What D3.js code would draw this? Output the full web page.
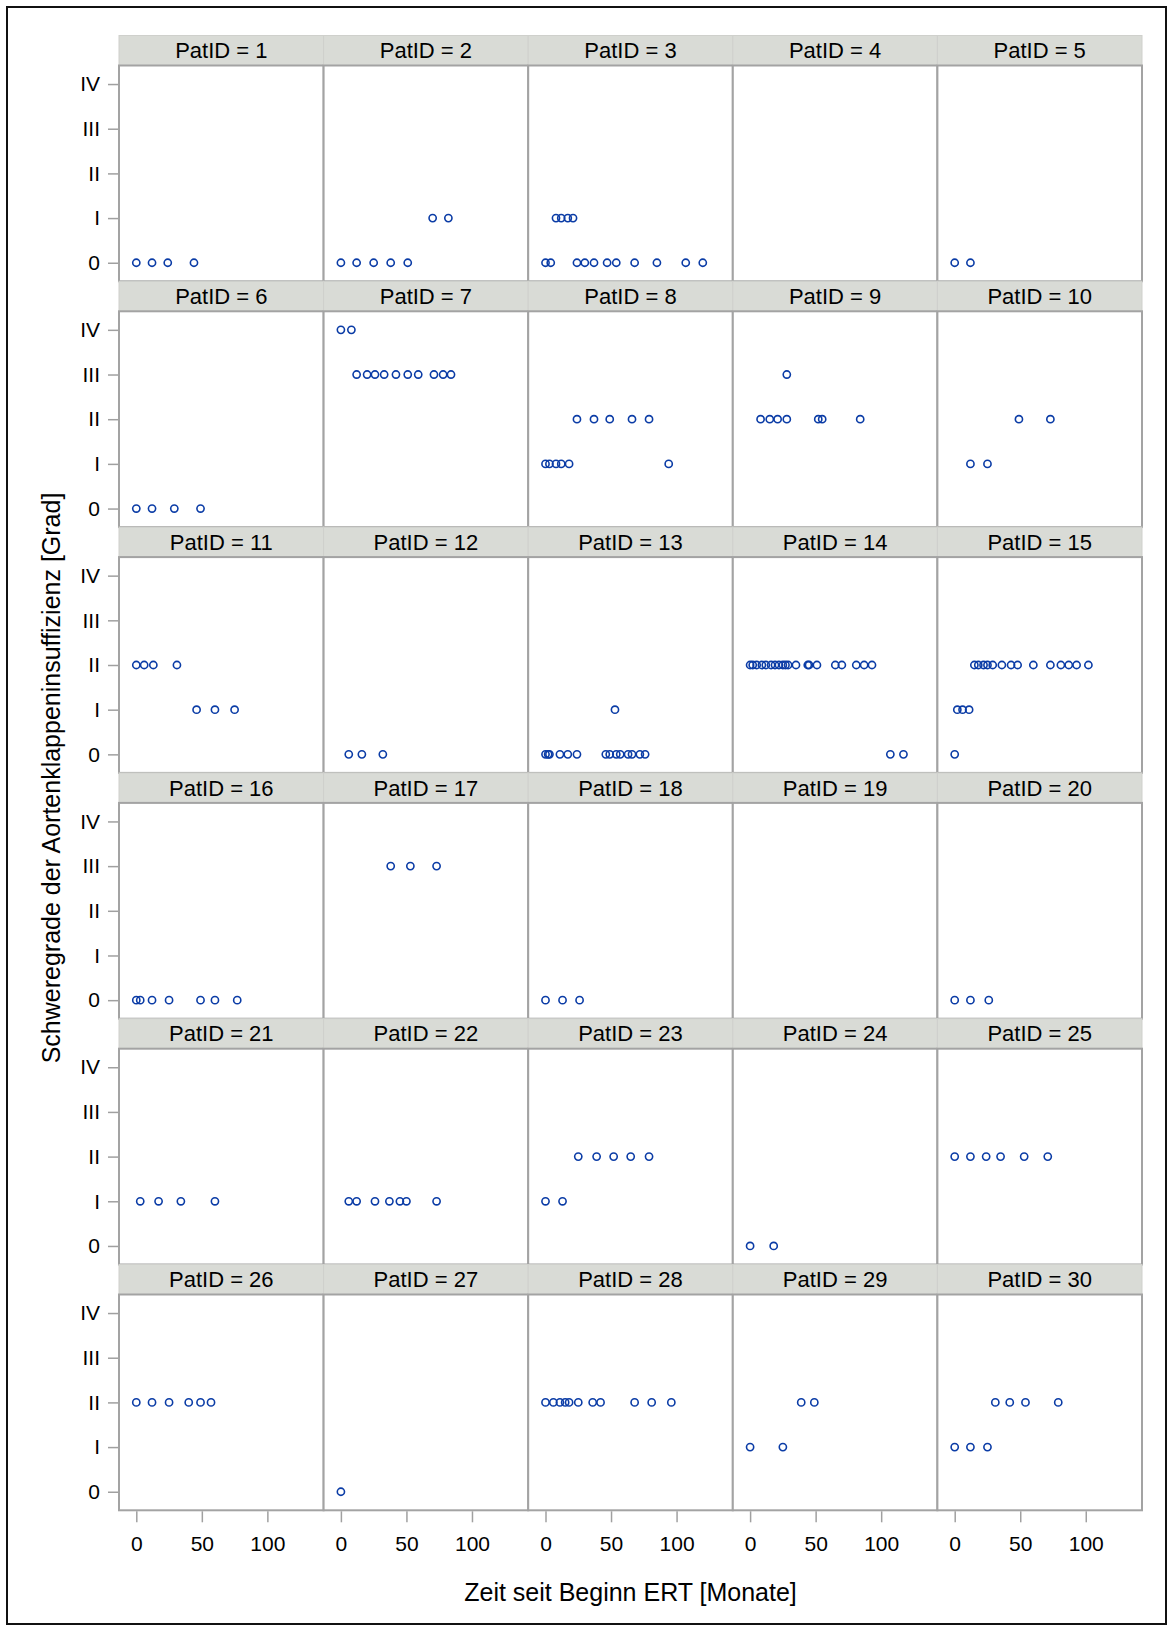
<!DOCTYPE html>
<html>
<head>
<meta charset="utf-8">
<script src="https://cdn.jsdelivr.net/npm/d3@7"></script>
<style>
  body { margin: 0; background: #fff; }
  svg text { font-family: "Liberation Sans", Arial, sans-serif; fill: #000; }
</style>
</head>
<body>
<svg id="chart" width="1173" height="1632"></svg>
<script>
// --- DATA ---
const patIds = [1, 2, 3, 4, 5, 6, 7, 8, 9, 10, 11, 12, 13, 14, 15,
                16, 17, 18, 19, 20, 21, 22, 23, 24, 25, 26, 27, 28, 29, 30];
const gradeValues = [0, 1, 2, 3, 4];
const gradeLabels = ["0", "I", "II", "III", "IV"];
const monthTicks = [0, 50, 100];

// [PatID, grade, months since start of ERT]
const visits = [
  [1, 0, [0, 12, 24, 44]],
  [2, 0, [0, 12, 25, 38, 51]], [2, 1, [70, 82]],
  [3, 0, [0, 4, 24, 30, 37, 47, 54, 68, 85, 107, 120]], [3, 1, [8, 12, 17, 21]],
  [5, 0, [0, 12]],
  [6, 0, [0, 12, 29, 49]],
  [7, 4, [0, 8]], [7, 3, [12, 20, 26, 33, 42, 51, 59, 71, 78, 84]],
  [8, 2, [24, 37, 49, 66, 79]], [8, 1, [0, 3, 8, 12, 18, 94]],
  [9, 3, [28]], [9, 2, [8, 15, 21, 28, 52, 55, 84]],
  [10, 2, [49, 73]], [10, 1, [12, 25]],
  [11, 2, [0, 6, 13, 31]], [11, 1, [46, 60, 75]],
  [12, 0, [6, 16, 32]],
  [13, 1, [53]], [13, 0, [0, 2, 3, 11, 17, 24, 46, 49, 54, 57, 63, 66, 72, 76]],
  [14, 2, [0, 2, 5, 9, 12, 16, 19, 22, 25, 27, 29, 35, 44, 45, 51, 65, 70, 81, 87, 93]], [14, 0, [107, 117]],
  [15, 2, [15, 18, 22, 25, 29, 36, 43, 48, 60, 73, 81, 87, 93, 102]], [15, 1, [2, 6, 11]], [15, 0, [0]],
  [16, 0, [0, 3, 12, 25, 49, 60, 77]],
  [17, 3, [38, 53, 73]],
  [18, 0, [0, 13, 26]],
  [20, 0, [0, 12, 26]],
  [21, 1, [3, 17, 34, 60]],
  [22, 1, [6, 12, 26, 37, 45, 50, 73]],
  [23, 2, [25, 39, 52, 65, 79]], [23, 1, [0, 13]],
  [24, 0, [0, 18]],
  [25, 2, [0, 12, 24, 35, 53, 71]],
  [26, 2, [0, 12, 25, 40, 49, 57]],
  [27, 0, [0]],
  [28, 2, [0, 6, 11, 15, 18, 25, 36, 42, 68, 81, 96]],
  [29, 2, [39, 49]], [29, 1, [0, 25]],
  [30, 2, [31, 42, 54, 79]], [30, 1, [0, 12, 25]]
];

// --- LAYOUT ---
const nCols = 5;
const gridLeft = 119, colW = 204.6;
const gridTop = 35.5, rowH = 245.8, headH = 30;
const plotH = rowH - headH;
const nRows = Math.ceil(patIds.length / nCols);

const markerColor = "#0b3ca6";
const frameColor = "#a3a3a3";

const svg = d3.select("#chart");

// outer frame
svg.append("rect")
  .attr("x", 7).attr("y", 7).attr("width", 1159).attr("height", 1617)
  .attr("fill", "none").attr("stroke", "#111").attr("stroke-width", 2);

const x = d3.scaleLinear().domain([-13.2, 142.9]).range([0, colW]);
const y = d3.scaleLinear().domain([-0.415, 4.415]).range([plotH, 0]);

// flatten visit rows into points
const points = visits.flatMap(([pid, grade, months]) =>
  months.map(m => ({ pid, grade, month: m })));

patIds.forEach((pid, i) => {
  const col = i % nCols, row = Math.floor(i / nCols);
  const g = svg.append("g")
    .attr("transform", `translate(${gridLeft + col * colW},${gridTop + row * rowH})`);

  // header cell
  g.append("rect")
    .attr("width", colW).attr("height", headH)
    .attr("fill", "#d9dbd6").attr("stroke", "#cfd0cc").attr("stroke-width", 1);
  g.append("text")
    .attr("x", colW / 2).attr("y", headH / 2 + 7.8)
    .attr("text-anchor", "middle")
    .style("font-size", "22px")
    .text(`PatID = ${pid}`);

  const plot = g.append("g").attr("transform", `translate(0,${headH})`);
  plot.append("rect")
    .attr("width", colW).attr("height", plotH)
    .attr("fill", "#fff").attr("stroke", frameColor).attr("stroke-width", 2);

  plot.selectAll("circle")
    .data(points.filter(p => p.pid === pid))
    .join("circle")
    .attr("cx", d => x(d.month))
    .attr("cy", d => y(d.grade))
    .attr("r", 3.6)
    .attr("fill", "none")
    .attr("stroke", markerColor)
    .attr("stroke-width", 1.6);

  if (col === 0) {
    const ax = plot.append("g")
      .attr("transform", "translate(-1,0)")
      .call(d3.axisLeft(y).tickValues(gradeValues)
        .tickFormat(v => gradeLabels[v]).tickSize(10).tickPadding(8));
    ax.select(".domain").remove();
    ax.selectAll("line").attr("stroke", "#a0a0a0").attr("stroke-width", 1.5);
    ax.selectAll("text").style("font-size", "21px").attr("fill", "#000");
  }

  if (row === nRows - 1) {
    const ax = plot.append("g")
      .attr("transform", `translate(0,${plotH + 1})`)
      .call(d3.axisBottom(x).tickValues(monthTicks).tickSize(11).tickPadding(14));
    ax.select(".domain").remove();
    ax.selectAll("line").attr("stroke", "#a0a0a0").attr("stroke-width", 1.5);
    ax.selectAll("text").style("font-size", "21px").attr("fill", "#000");
  }
});

// axis titles
svg.append("text")
  .attr("x", gridLeft + nCols * colW / 2).attr("y", 1601)
  .attr("text-anchor", "middle")
  .style("font-size", "25px")
  .text("Zeit seit Beginn ERT [Monate]");

svg.append("text")
  .attr("transform", "translate(60,778) rotate(-90)")
  .attr("text-anchor", "middle")
  .style("font-size", "25px")
  .text("Schweregrade der Aortenklappeninsuffizienz [Grad]");
</script>
</body>
</html>
